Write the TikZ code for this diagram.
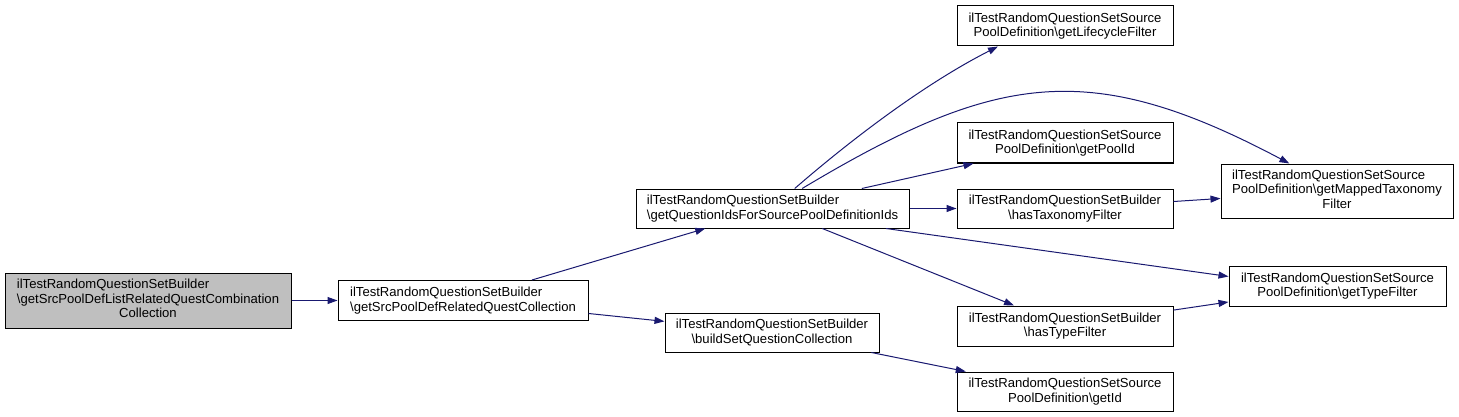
\documentclass[tikz,border=0pt]{standalone}
\usepackage{fontspec}
\setmainfont{Liberation Sans}
\usepackage{tikz}
\usetikzlibrary{arrows.meta}
\definecolor{cgedge}{HTML}{191970}
\definecolor{cgroot}{HTML}{BFBFBF}
\newcommand{\cgbs}{\textbackslash}

\begin{document}
\begin{tikzpicture}[x=1pt, y=-1pt,
    func/.style={rectangle, draw=black, fill=#1, line width=1pt, inner sep=0pt, font=\fontsize{13.1}{14.5}\selectfont, align=center},
    func/.default=white,
    arrow/.style={-{Triangle[length=10pt,width=7pt]}, line width=1pt, color=cgedge}
]
\useasboundingbox (0,0) rectangle (1459,417);

% Caller
\node[func=cgroot, minimum width=286pt, minimum height=55pt] (combo) at (148,300.5) {\begin{tabular}{@{}l@{}}ilTestRandomQuestionSetBuilder\\\cgbs getSrcPoolDefListRelatedQuestCombination\\\multicolumn{1}{@{}c@{}}{Collection}\end{tabular}};

% First level
\node[func, minimum width=250pt, minimum height=40pt, align=left] (related) at (463,300.5) {ilTestRandomQuestionSetBuilder\\\cgbs getSrcPoolDefRelatedQuestCollection};

% Second level
\node[func, minimum width=273pt, minimum height=39pt, align=left] (qids) at (772.5,208.5) {ilTestRandomQuestionSetBuilder\\\cgbs getQuestionIdsForSourcePoolDefinitionIds};
\node[func, minimum width=214pt, minimum height=39pt] (build) at (772,332.5) {ilTestRandomQuestionSetBuilder\\\cgbs buildSetQuestionCollection};

% Third level
\node[func, minimum width=216pt, minimum height=40pt] (lifecycle) at (1065,26) {ilTestRandomQuestionSetSource\\PoolDefinition\cgbs getLifecycleFilter};
\node[func, minimum width=216pt, minimum height=40pt] (poolid) at (1065,143) {ilTestRandomQuestionSetSource\\PoolDefinition\cgbs getPoolId};
\node[func, minimum width=216pt, minimum height=39pt] (hastax) at (1065,208.5) {ilTestRandomQuestionSetBuilder\\\cgbs hasTaxonomyFilter};
\node[func, minimum width=216pt, minimum height=40pt] (hastype) at (1065,326) {ilTestRandomQuestionSetBuilder\\\cgbs hasTypeFilter};
\node[func, minimum width=216pt, minimum height=39pt] (getid) at (1065,391.5) {ilTestRandomQuestionSetSource\\PoolDefinition\cgbs getId};

% Fourth level
\node[func, minimum width=232pt, minimum height=54pt] (mapped) at (1337,191) {\begin{tabular}{@{}l@{}}ilTestRandomQuestionSetSource\\PoolDefinition\cgbs getMappedTaxonomy\\\multicolumn{1}{@{}c@{}}{Filter}\end{tabular}};
\node[func, minimum width=217pt, minimum height=40pt] (typefilter) at (1337.5,286) {ilTestRandomQuestionSetSource\\PoolDefinition\cgbs getTypeFilter};

% Calls
\draw[arrow] (combo) -- (related);
\draw[arrow] (related) -- (qids);
\draw[arrow] (related) -- (build);
\draw[arrow] (qids.42) .. controls +(60,-52) and +(-71,36) .. (lifecycle.197);
\draw[arrow] (qids.34) .. controls +(194,-116) and +(-200,-106) .. (mapped.150);
\draw[arrow] (qids) -- (poolid);
\draw[arrow] (qids) -- (hastax);
\draw[arrow] (qids.-10) -- (typefilter.175);
\draw[arrow] (qids) -- (hastype);
\draw[arrow] (hastax) -- (mapped);
\draw[arrow] (hastype) -- (typefilter);
\draw[arrow] (build) -- (getid);

\end{tikzpicture}
\end{document}
